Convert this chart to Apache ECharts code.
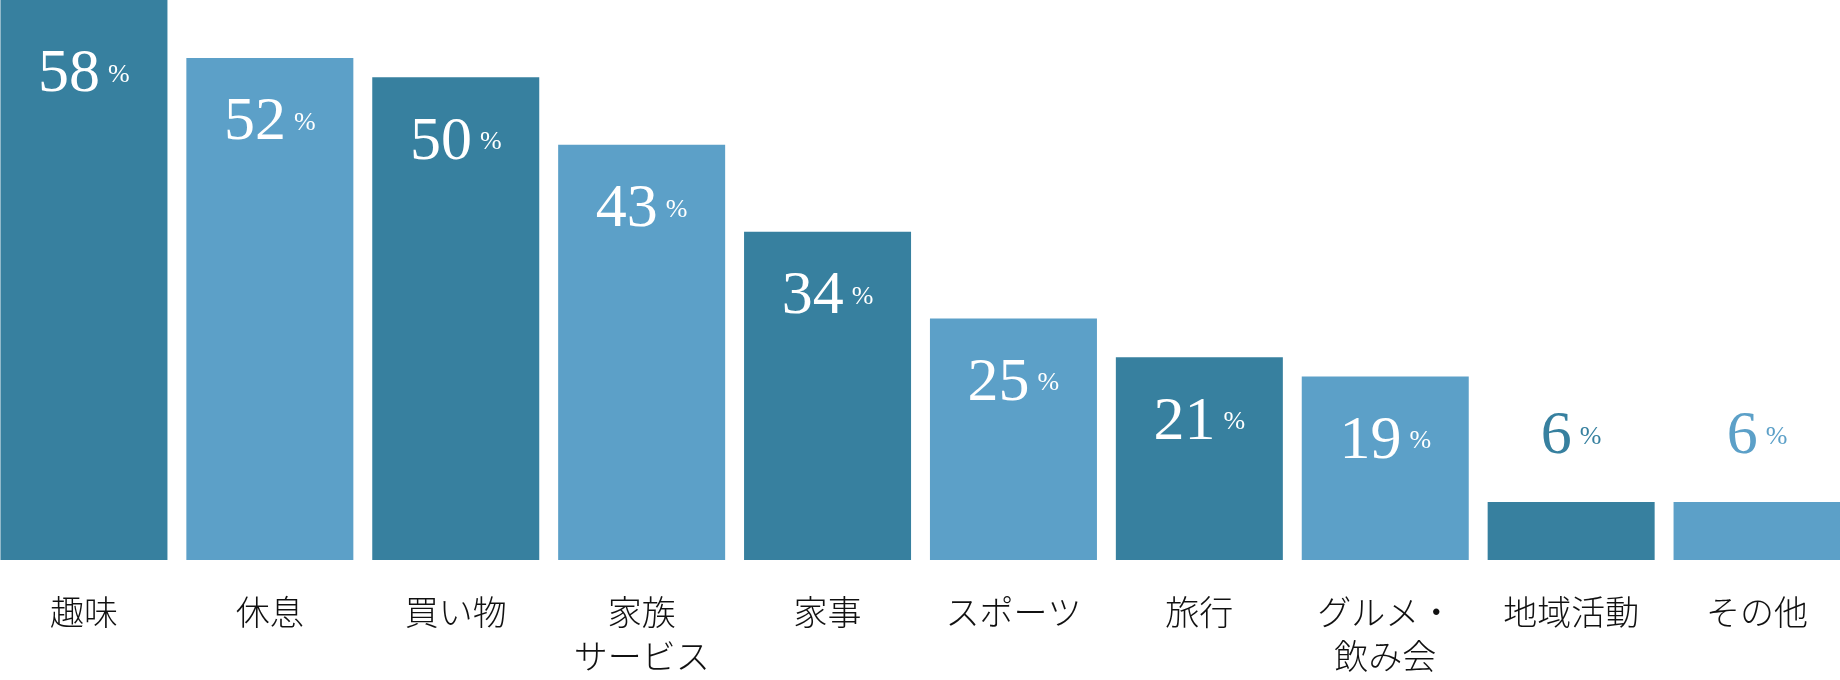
<!DOCTYPE html>
<html>
<head>
<meta charset="utf-8">
<style>
html,body{margin:0;padding:0;background:#fff;}
#chart{width:1840px;height:680px;}
</style>
<script src="https://cdn.jsdelivr.net/npm/echarts@6/dist/echarts.min.js"></script>
</head>
<body>
<div id="chart"></div>
<script>
const categories = ['趣味', '休息', '買い物', '家族\nサービス', '家事', 'スポーツ', '旅行', 'グルメ・\n飲み会', '地域活動', 'その他'];
const values = [58, 52, 50, 43, 34, 25, 21, 19, 6, 6];
const darkColor = '#37809F';
const lightColor = '#5CA0C8';

const chart = echarts.init(document.getElementById('chart'));
const data = values.map((v, i) => {
  const color = i % 2 === 0 ? darkColor : lightColor;
  const outside = v < 10;
  return {
    value: v,
    itemStyle: { color: color },
    label: outside ? {
      position: 'top',
      distance: 34,
      rich: {
        v: { fontFamily: 'Liberation Serif', fontSize: 62, color: color, verticalAlign: 'middle', lineHeight: 62 },
        p: { fontFamily: 'Liberation Serif', fontSize: 26, color: color, verticalAlign: 'middle', padding: [0, 0, 0, 8], lineHeight: 62 }
      }
    } : {
      position: 'insideTop',
      distance: i === 0 ? 44 : 34
    }
  };
});

chart.setOption({
  backgroundColor: '#ffffff',
  animation: false,
  grid: { left: -9, right: -10, top: 0, bottom: 120, containLabel: false, outerBoundsMode: 'none' },
  xAxis: {
    type: 'category',
    data: categories,
    axisLine: { show: false },
    axisTick: { show: false },
    axisLabel: {
      interval: 0,
      margin: 30,
      color: '#111',
      fontFamily: 'Noto Sans CJK JP',
      fontWeight: 300,
      fontSize: 34,
      lineHeight: 44,
      verticalAlign: 'top'
    }
  },
  yAxis: {
    type: 'value',
    min: 0,
    max: 58,
    show: false,
    splitLine: { show: false }
  },
  series: [{
    type: 'bar',
    barWidth: 167,
    data: data,
    label: {
      show: true,
      formatter: p => '{v|' + p.value + '}{p|%}',
      rich: {
        v: { fontFamily: 'Liberation Serif', fontSize: 62, color: '#ffffff', verticalAlign: 'middle', lineHeight: 62 },
        p: { fontFamily: 'Liberation Serif', fontSize: 26, color: '#ffffff', verticalAlign: 'middle', padding: [0, 0, 0, 8], lineHeight: 62 }
      }
    }
  }]
});
</script>
</body>
</html>
